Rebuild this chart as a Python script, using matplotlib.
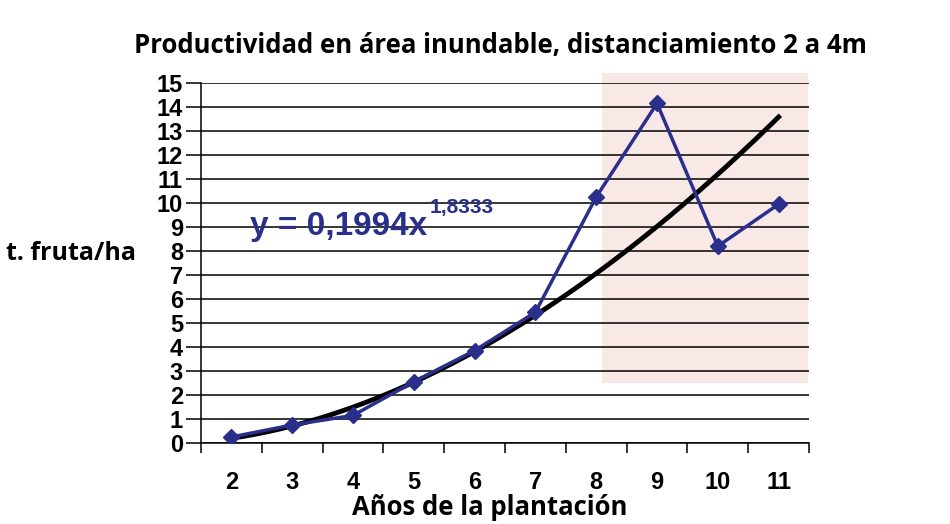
import numpy as np
import matplotlib
matplotlib.use("Agg")
import matplotlib.pyplot as plt
from matplotlib.patches import Rectangle

years = [2, 3, 4, 5, 6, 7, 8, 9, 10, 11]
yields = [0.25, 0.75, 1.15, 2.55, 3.85, 5.45, 10.25, 14.15, 8.2, 9.95]
trend_a = 0.1994
trend_b = 1.8333
y_ticks = list(range(0, 16))

navy = "#2b2f8c"
title_font = "Open Sans"

fig = plt.figure(figsize=(9.5, 5.24), dpi=100)
ax = fig.add_axes([0.2116, 0.1546, 0.64, 0.687])

# pink highlighted band behind the last years
ax.add_patch(Rectangle((8.1, 2.5), 3.38, 12.9, facecolor="#f8e8e6", edgecolor="none",
                       zorder=0, clip_on=False))

for v in y_ticks:
    ax.axhline(v, color="black", lw=1.1, zorder=1)

# power trendline (x counted from 1 at the first year)
xs = np.linspace(years[0], years[-1], 200)
ax.plot(xs, trend_a * (xs - 1) ** trend_b, color="black", lw=3.5, zorder=2)

ax.plot(years, yields, color=navy, lw=2.5, marker="D", markersize=8,
        markerfacecolor=navy, markeredgecolor=navy, zorder=3)

ax.text(2.3, 8.65, "y = 0,1994x", color=navy, fontsize=24,
        fontweight="bold", family="Liberation Sans", zorder=4)
ax.text(5.26, 9.6, "1,8333", color=navy, fontsize=15,
        fontweight="bold", family="Liberation Sans", zorder=4)

ax.set_xlim(1.5, 11.5)
ax.set_ylim(0, 15)
ax.set_yticks(y_ticks)
ax.set_xticks(years)
ax.set_xticks(np.arange(1.5, 12, 1), minor=True)
ax.tick_params(axis="y", length=11, width=1.1, pad=2, labelsize=17)
ax.tick_params(axis="x", which="major", length=0, pad=20, labelsize=17)
ax.tick_params(axis="x", which="minor", length=7, width=1.1)
for lab in ax.get_yticklabels() + ax.get_xticklabels():
    lab.set_fontweight("bold")
    lab.set_family("Liberation Sans")

for s in ["top", "right"]:
    ax.spines[s].set_visible(False)
ax.spines["left"].set_linewidth(1.1)
ax.spines["bottom"].set_linewidth(1.1)
ax.set_facecolor("none")

fig.text(0.527, 0.913, "Productividad en área inundable, distanciamiento 2 a 4m",
         ha="center", va="center", fontsize=18.5, fontweight="bold", family=title_font)
fig.text(0.075, 0.517, "t. fruta/ha", ha="center", va="center", fontsize=18,
         fontweight="bold", family=title_font)
fig.text(0.515, 0.031, "Años de la plantación", ha="center", va="center", fontsize=18.5,
         fontweight="bold", family=title_font)

fig.savefig("out.png", dpi=100)
